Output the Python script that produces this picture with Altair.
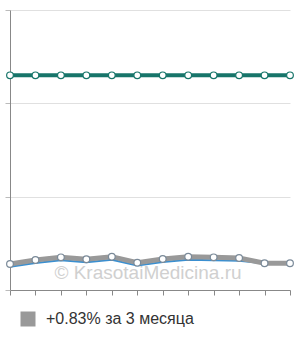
import altair as alt
import pandas as pd

months = list(range(12))
teal_values = [2.30] * 12
gray_values = [0.279, 0.321, 0.350, 0.329, 0.357, 0.293, 0.332, 0.357, 0.350, 0.343, 0.286, 0.286]
blue_values = [0.250, 0.290, 0.318, 0.298, 0.325, 0.262, 0.300, 0.325, 0.320, 0.313, 0.286, 0.286]
legend_label = "+0.83% за 3 месяца"
watermark = "© KrasotaiMedicina.ru"

df = pd.DataFrame({
    "m": months,
    "teal": teal_values,
    "gray": gray_values,
    "blue": blue_values,
    "series": [legend_label] * 12,
})

xs = alt.Scale(type="point", domain=months, padding=0)
ys = alt.Scale(domain=[0, 3], nice=False)

xax = alt.Axis(labels=False, labelOverlap=False, title=None, grid=False, tickSize=5,
               domainColor="#888", tickColor="#888", tickWidth=1, domainWidth=1)
yax = alt.Axis(values=[0, 1, 2, 3], labels=False, labelOverlap=False, title=None, grid=True, gridColor="#e0e0e0",
               tickSize=5, domainColor="#888", tickColor="#bbb", domainWidth=1)

base = alt.Chart(df)

blue_line = base.mark_line(color="#3a8fd0", strokeWidth=2).encode(
    x=alt.X("m:O", scale=xs, axis=xax), y=alt.Y("blue:Q", scale=ys, axis=yax))

gray_line = base.mark_line(strokeWidth=5).encode(
    x=alt.X("m:O", scale=xs), y=alt.Y("gray:Q", scale=ys),
    color=alt.Color("series:N", scale=alt.Scale(domain=[legend_label], range=["#999999"]),
                    legend=alt.Legend(title=None, orient="none", legendX=10, legendY=301,
                                      symbolType="square", symbolSize=225, symbolStrokeWidth=0,
                                      symbolFillColor="#999999", symbolOpacity=1,
                                      labelFontSize=16, labelColor="#333",
                                      labelFont="Arial", labelOffset=10)))

gray_pts = base.mark_point(filled=True, fill="white", stroke="#7a8a99", strokeWidth=1.2, size=45, opacity=1).encode(
    x=alt.X("m:O", scale=xs), y=alt.Y("gray:Q", scale=ys))

teal_line = base.mark_line(color="#17756a", strokeWidth=4).encode(
    x=alt.X("m:O", scale=xs), y=alt.Y("teal:Q", scale=ys))

teal_pts = base.mark_point(filled=True, fill="white", stroke="#17756a", strokeWidth=1.2, size=45, opacity=1).encode(
    x=alt.X("m:O", scale=xs), y=alt.Y("teal:Q", scale=ys))

wm = alt.Chart(pd.DataFrame({"t": [watermark]})).mark_text(
    fontSize=19, color="#d0d0d0", font="Arial", align="center", baseline="middle"
).encode(text="t:N", x=alt.value(138), y=alt.value(263))

chart = alt.layer(blue_line, gray_line, wm, gray_pts, teal_line, teal_pts).properties(
    width=280, height=280,
    autosize=alt.AutoSizeParams(type="none"),
    padding={"left": 10, "top": 10, "right": 10, "bottom": 50},
).configure_view(stroke=None)

chart.save("out.html", embed_options={"renderer": "svg", "actions": False})
